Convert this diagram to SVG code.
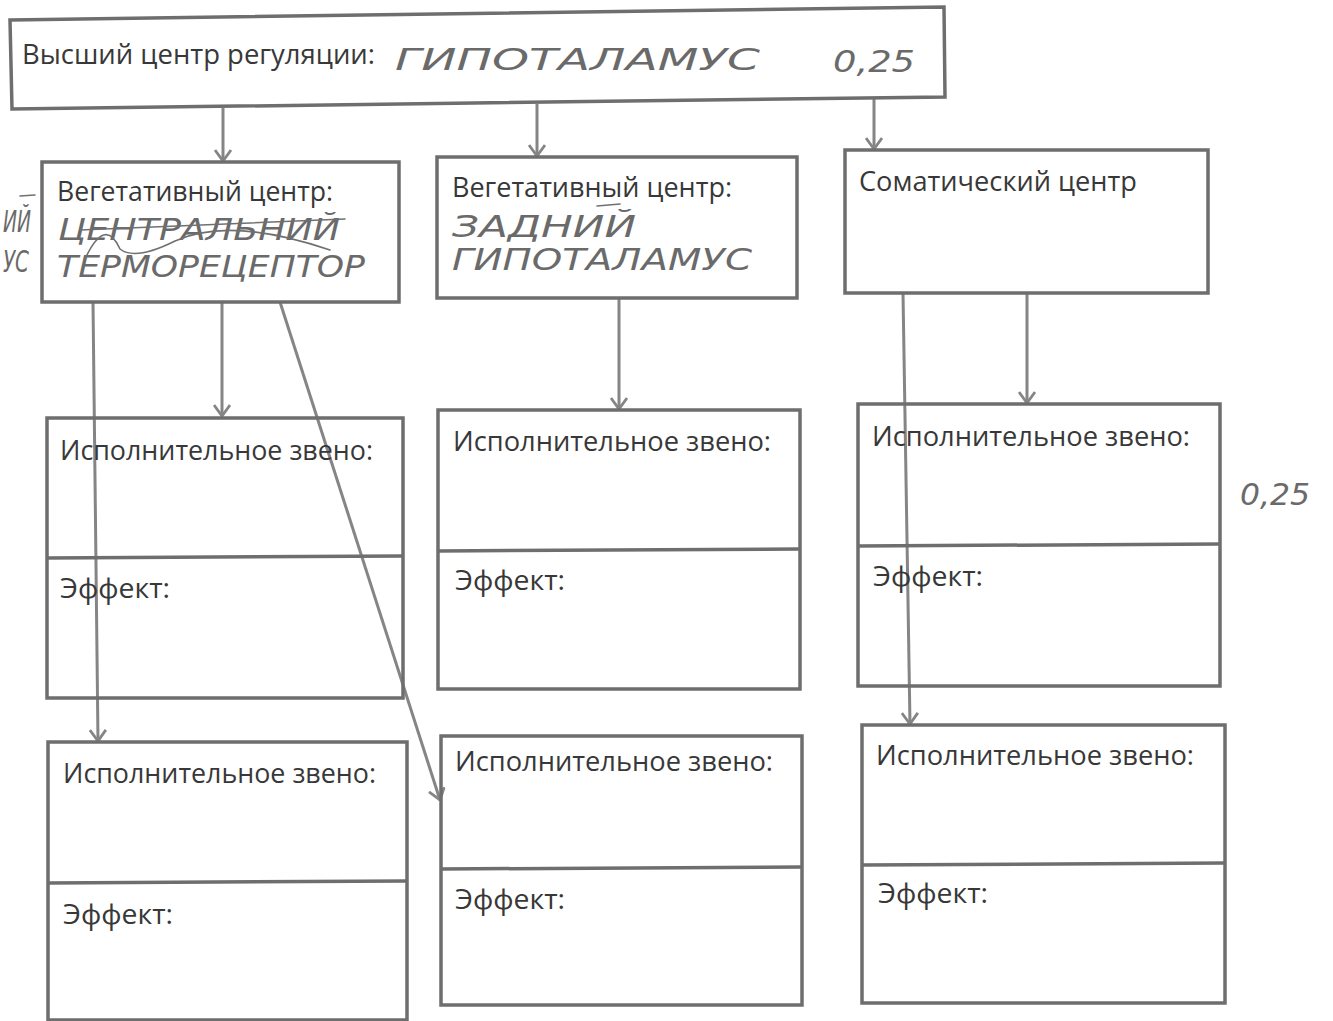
<svg xmlns="http://www.w3.org/2000/svg" width="1333" height="1021" viewBox="0 0 1333 1021">
<defs>
<style>
.box{fill:none;stroke:#6e6e6e;stroke-width:3.5;stroke-linejoin:miter}
.lbl{font-family:"Open Sans","Liberation Sans",sans-serif;font-size:28px;fill:#383838}
.hw{font-family:"DejaVu Sans","Liberation Sans",sans-serif;font-weight:200;font-style:italic;fill:#6a6a6a;font-size:30px}
.hwl{fill:none;stroke:#707070;stroke-width:1.6;stroke-linecap:round}
.con{fill:none;stroke:#858585;stroke-width:3;marker-end:url(#arr)}
</style>
<marker id="arr" viewBox="0 0 18 18" refX="17" refY="9" markerWidth="18" markerHeight="18" markerUnits="userSpaceOnUse" orient="auto">
<path d="M6 1 L17 9 L6 17" fill="none" stroke="#858585" stroke-width="2.8"/>
</marker>
</defs>
<rect width="1333" height="1021" fill="#ffffff"/>

<g id="connectors">
<line class="con" x1="223" y1="108" x2="223" y2="161"/>
<line class="con" x1="537" y1="104" x2="537" y2="156"/>
<line class="con" x1="874" y1="98" x2="874" y2="149"/>
<line class="con" x1="222" y1="302" x2="222" y2="416"/>
<line class="con" x1="93" y1="302" x2="98" y2="741"/>
<line class="con" x1="280" y1="302" x2="440" y2="800"/>
<line class="con" x1="619" y1="298" x2="619" y2="409"/>
<line class="con" x1="1027" y1="293" x2="1027" y2="403"/>
<line class="con" x1="903" y1="293" x2="910" y2="724"/>
</g>

<g id="top">
<polygon class="box" points="10,20 944,7 945,97 12,109"/>
<text class="lbl" x="22" y="64" textLength="353" lengthAdjust="spacingAndGlyphs">Высший центр регуляции:</text>
<text class="hw" x="395" y="70" font-size="44" textLength="365" lengthAdjust="spacingAndGlyphs">ГИПОТАЛАМУС</text>
<text class="hw" x="833" y="72" font-size="36" textLength="82" lengthAdjust="spacingAndGlyphs">0,25</text>
</g>

<g id="veg-left">
<rect class="box" x="42" y="162" width="357" height="140"/>
<text class="lbl" x="57" y="201" textLength="276" lengthAdjust="spacingAndGlyphs">Вегетативный центр:</text>
<text class="hw" x="58" y="240" font-size="28" textLength="282" lengthAdjust="spacingAndGlyphs">ЦЕНТРАЛЬНИЙ</text>
<text class="hw" x="57" y="277" font-size="31" textLength="308" lengthAdjust="spacingAndGlyphs">ТЕРМОРЕЦЕПТОР</text>
<path class="hwl" d="M80 230 L345 219"/>
<path class="hwl" d="M85 259 Q105 216 120 249 Q135 261 175 241 Q230 216 330 250"/>
</g>

<g id="veg-middle">
<rect class="box" x="437" y="157" width="360" height="141"/>
<text class="lbl" x="452" y="197" textLength="280" lengthAdjust="spacingAndGlyphs">Вегетативный центр:</text>
<path class="hwl" d="M597 206 L620 204"/>
<text class="hw" x="452" y="237" font-size="26" textLength="184" lengthAdjust="spacingAndGlyphs">ЗАДНИЙ</text>
<text class="hw" x="452" y="270" font-size="31" textLength="300" lengthAdjust="spacingAndGlyphs">ГИПОТАЛАМУС</text>
</g>

<g id="somatic">
<rect class="box" x="845" y="150" width="363" height="143"/>
<text class="lbl" x="859" y="191" textLength="278" lengthAdjust="spacingAndGlyphs">Соматический центр</text>
</g>

<g id="margin-notes">
<text class="hw" x="3" y="232" font-size="26" textLength="28" lengthAdjust="spacingAndGlyphs">ИЙ</text>
<path class="hwl" d="M20 196 L35 195"/>
<text class="hw" x="3" y="272" font-size="26" textLength="26" lengthAdjust="spacingAndGlyphs">УС</text>
<text class="hw" x="1240" y="505" font-size="36" textLength="70" lengthAdjust="spacingAndGlyphs">0,25</text>
</g>

<g id="exec-left-1">
<rect class="box" x="47" y="418" width="356" height="280"/>
<line class="box" x1="47" y1="558" x2="403" y2="556"/>
<text class="lbl" x="60" y="460" textLength="313" lengthAdjust="spacingAndGlyphs">Исполнительное звено:</text>
<text class="lbl" x="60" y="598" textLength="110" lengthAdjust="spacingAndGlyphs">Эффект:</text>
</g>

<g id="exec-middle-1">
<rect class="box" x="438" y="410" width="362" height="279"/>
<line class="box" x1="438" y1="551" x2="800" y2="549"/>
<text class="lbl" x="453" y="451" textLength="318" lengthAdjust="spacingAndGlyphs">Исполнительное звено:</text>
<text class="lbl" x="455" y="590" textLength="110" lengthAdjust="spacingAndGlyphs">Эффект:</text>
</g>

<g id="exec-right-1">
<rect class="box" x="858" y="404" width="362" height="282"/>
<line class="box" x1="858" y1="546" x2="1220" y2="544"/>
<text class="lbl" x="872" y="446" textLength="318" lengthAdjust="spacingAndGlyphs">Исполнительное звено:</text>
<text class="lbl" x="873" y="586" textLength="110" lengthAdjust="spacingAndGlyphs">Эффект:</text>
</g>

<g id="exec-left-2">
<rect class="box" x="48" y="742" width="359" height="278"/>
<line class="box" x1="48" y1="883" x2="407" y2="881"/>
<text class="lbl" x="63" y="783" textLength="313" lengthAdjust="spacingAndGlyphs">Исполнительное звено:</text>
<text class="lbl" x="63" y="924" textLength="110" lengthAdjust="spacingAndGlyphs">Эффект:</text>
</g>

<g id="exec-middle-2">
<rect class="box" x="441" y="736" width="361" height="269"/>
<line class="box" x1="441" y1="869" x2="802" y2="867"/>
<text class="lbl" x="455" y="771" textLength="318" lengthAdjust="spacingAndGlyphs">Исполнительное звено:</text>
<text class="lbl" x="455" y="909" textLength="110" lengthAdjust="spacingAndGlyphs">Эффект:</text>
</g>

<g id="exec-right-2">
<rect class="box" x="862" y="725" width="363" height="278"/>
<line class="box" x1="862" y1="865" x2="1225" y2="863"/>
<text class="lbl" x="876" y="765" textLength="318" lengthAdjust="spacingAndGlyphs">Исполнительное звено:</text>
<text class="lbl" x="878" y="903" textLength="110" lengthAdjust="spacingAndGlyphs">Эффект:</text>
</g>
</svg>
